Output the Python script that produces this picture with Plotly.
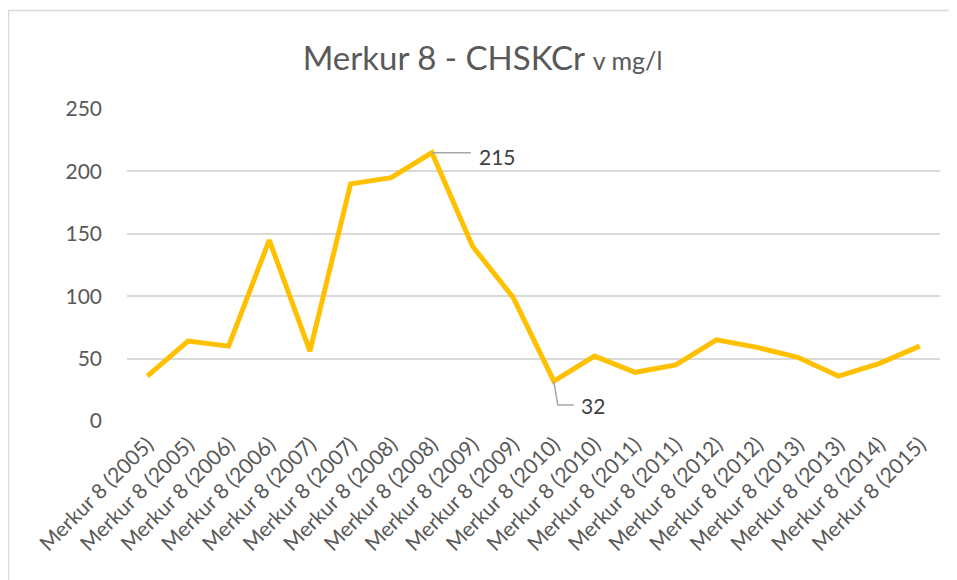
import plotly.graph_objects as go

categories = ["Merkur 8 (2005)", "Merkur 8 (2005)", "Merkur 8 (2006)", "Merkur 8 (2006)",
              "Merkur 8 (2007)", "Merkur 8 (2007)", "Merkur 8 (2008)", "Merkur 8 (2008)",
              "Merkur 8 (2009)", "Merkur 8 (2009)", "Merkur 8 (2010)", "Merkur 8 (2010)",
              "Merkur 8 (2011)", "Merkur 8 (2011)", "Merkur 8 (2012)", "Merkur 8 (2012)",
              "Merkur 8 (2013)", "Merkur 8 (2013)", "Merkur 8 (2014)", "Merkur 8 (2015)"]
values = [36, 64, 60, 145, 56, 190, 195, 215, 140, 99, 32, 52, 39, 45, 65, 59, 51, 36, 46, 60]
y_ticks = [0, 50, 100, 150, 200, 250]

FONT = "Lato"
GREY = "#595959"
positions = list(range(len(categories)))

# page body has an 8px margin, so the figure is laid out 8px up/left of the reference
W, H = 949, 572
L, T = 119, 101
PW, PH = 813, 312

fig = go.Figure()
fig.add_trace(go.Scatter(
    x=positions, y=values, mode="lines",
    line=dict(color="#FFC000", width=5),
    hoverinfo="skip", showlegend=False,
))

imax = values.index(max(values))
imin = values.index(min(values))
px_x = PW / len(categories)
px_y = PH / 250

# leader line for max label
fig.add_shape(type="line", xref="x", yref="y",
              x0=imax, y0=values[imax], x1=imax + 39 / px_x, y1=values[imax],
              line=dict(color="#a6a6a6", width=1.5))
fig.add_annotation(x=imax + 39 / px_x, y=values[imax], xref="x", yref="y",
                   text=str(values[imax]), showarrow=False, xanchor="left",
                   xshift=6, yshift=-4, font=dict(family=FONT, size=21, color="#404040"))

# leader line for min label
fig.add_shape(type="path", xref="x", yref="y",
              path=f"M {imin},{values[imin]} L {imin + 4 / px_x},{values[imin] - 24 / px_y} L {imin + 20 / px_x},{values[imin] - 24 / px_y}",
              line=dict(color="#a6a6a6", width=1.5))
fig.add_annotation(x=imin + 20 / px_x, y=values[imin] - 24 / px_y, xref="x", yref="y",
                   text=str(values[imin]), showarrow=False, xanchor="left",
                   xshift=5, font=dict(family=FONT, size=21, color="#404040"))

# chart area border (top and left edges visible)
bx0 = (0.5 - L) / PW
by1 = 1 + (T - 2.5) / PH
fig.add_shape(type="line", xref="paper", yref="paper",
              x0=bx0, y0=by1, x1=(W - L) / PW, y1=by1,
              line=dict(color="#d9d9d9", width=1.5), layer="below")
fig.add_shape(type="line", xref="paper", yref="paper",
              x0=bx0, y0=by1, x1=bx0, y1=-(H - T - PH) / PH,
              line=dict(color="#d9d9d9", width=1.5), layer="below")

fig.update_layout(
    width=W, height=H,
    margin=dict(l=L, r=W - L - PW, t=T, b=H - T - PH),
    paper_bgcolor="white", plot_bgcolor="white",
    font=dict(family=FONT, color=GREY),
    title=dict(
        text="Merkur 8 - CHSKCr <span style='font-size:25px'>v mg/l</span>",
        x=0.5, xref="container", xanchor="center", y=1 - 50 / H, yanchor="middle",
        font=dict(family=FONT, size=33, color=GREY),
    ),
    xaxis=dict(
        range=[-0.5, len(categories) - 0.5],
        tickmode="array", tickvals=positions, ticktext=categories,
        tickangle=-45, tickfont=dict(family=FONT, size=21, color=GREY),
        showgrid=False, zeroline=False, showline=False, ticks="",
        ticklabelstandoff=6,
    ),
    yaxis=dict(
        range=[0, 250], tickmode="array", tickvals=y_ticks,
        tickfont=dict(family=FONT, size=21, color=GREY),
        showgrid=True, gridcolor="#d9d9d9", gridwidth=1.5,
        zeroline=False, showline=False, ticks="", ticklen=0,
        ticklabelstandoff=24,
    ),
)

fig.write_html("out.html")
